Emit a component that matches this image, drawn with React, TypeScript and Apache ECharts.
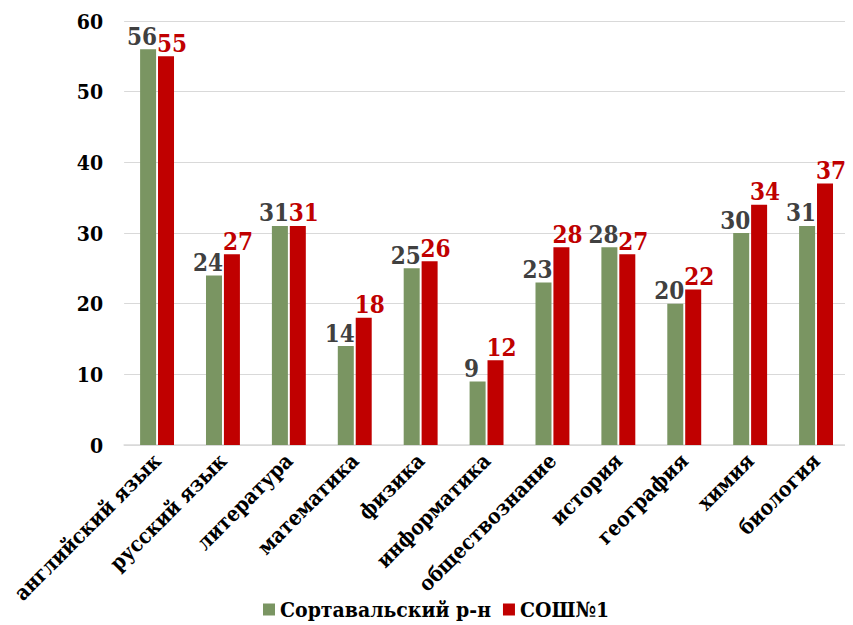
import React, { useEffect, useRef } from "react";
import * as echarts from "echarts";

const categories = [
  "английский язык",
  "русский язык",
  "литература",
  "математика",
  "физика",
  "информатика",
  "обществознание",
  "история",
  "география",
  "химия",
  "биология",
];
const seriesNames = ["Сортавальский р-н", "СОШ№1"];
const districtValues = [56, 24, 31, 14, 25, 9, 23, 28, 20, 30, 31];
const schoolValues = [55, 27, 31, 18, 26, 12, 28, 27, 22, 34, 37];

const FONT = "'DejaVu Serif Condensed', 'DejaVu Serif'";

export default function App() {
  const ref = useRef<HTMLDivElement>(null);
  useEffect(() => {
    if (!ref.current) return;
    const chart = echarts.init(ref.current, null, { renderer: "svg" });
    chart.setOption({
      animation: false,
      textStyle: { fontFamily: FONT },
      grid: { left: 115, right: 4, top: 13, bottom: 180, containLabel: false },
      legend: {
        bottom: 0,
        left: 250,
        itemWidth: 12,
        itemHeight: 12,
        itemGap: 12,
        icon: "rect",
        textStyle: { fontFamily: FONT, fontSize: 21, fontWeight: "bold", color: "#000" },
        data: seriesNames,
      },
      xAxis: {
        type: "category",
        data: categories,
        axisLine: { lineStyle: { color: "#d9d9d9", width: 1.5 } },
        axisTick: { show: false },
        axisLabel: {
          rotate: 45,
          interval: 0,
          margin: 12,
          fontFamily: FONT,
          fontSize: 21,
          fontWeight: "bold",
          color: "#000",
        },
      },
      yAxis: {
        type: "value",
        min: 0,
        max: 60,
        interval: 10,
        axisLine: { show: false },
        axisTick: { show: false },
        splitLine: { lineStyle: { color: "#d9d9d9", width: 1.2 } },
        axisLabel: {
          margin: 21,
          fontFamily: FONT,
          fontSize: 21,
          fontWeight: "bold",
          color: "#000",
        },
      },
      series: [
        {
          name: seriesNames[0],
          type: "bar",
          data: districtValues,
          barWidth: 16,
          barGap: "12%",
          itemStyle: { color: "#7A9562" },
          label: {
            show: true,
            position: "top",
            distance: 1,
            offset: [-6, 0],
            fontFamily: FONT,
            fontSize: 24,
            fontWeight: "bold",
            color: "#404040",
          },
        },
        {
          name: seriesNames[1],
          type: "bar",
          data: schoolValues,
          barWidth: 16,
          itemStyle: { color: "#C00000" },
          label: {
            show: true,
            position: "top",
            distance: 1,
            offset: [6, 0],
            fontFamily: FONT,
            fontSize: 24,
            fontWeight: "bold",
            color: "#C00000",
          },
        },
      ],
    });
    return () => chart.dispose();
  }, []);
  return <div ref={ref} style={{ width: 845, height: 617 }} />;
}
